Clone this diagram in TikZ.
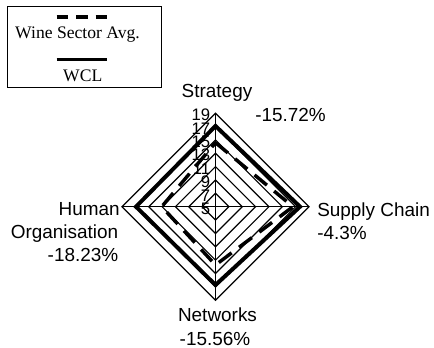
\documentclass[tikz,border=0pt]{standalone}
\usepackage{fontspec}
\usetikzlibrary{calc}
\setmainfont{Liberation Serif}
\newfontfamily\arialf{Liberation Sans}
\begin{document}
\begin{tikzpicture}[x=0.75pt,y=-0.75pt,
  grid/.style={draw=black,line width=0.9pt},
  wcl/.style={draw=black,line width=3pt,line join=miter},
  avg/.style={draw=black,line width=2.6pt,dash pattern=on 12pt off 7pt,line join=miter},
  axlab/.style={font=\arialf\fontsize{14.2pt}{17pt}\selectfont,inner sep=0pt},
  ringlab/.style={font=\arialf\fontsize{12.5pt}{14pt}\selectfont,inner sep=0pt,anchor=east},
  legtext/.style={font=\fontsize{13.2pt}{15pt}\selectfont,inner sep=0pt,anchor=base}]
\useasboundingbox (0,0) rectangle (434,348);
\fill[white] (0,0) rectangle (434,348);
\coordinate (C) at (215.5,206.7);
% rings
\foreach \k in {1,...,7}{
  \pgfmathsetmacro{\r}{\k*13.36}
  \draw[grid] ($(C)+(0,-\r)$) -- ($(C)+(\r,0)$) -- ($(C)+(0,\r)$) -- ($(C)+(-\r,0)$) -- cycle;
}
% spokes
\draw[grid] ($(C)+(0,-93.5)$) -- ($(C)+(0,93.5)$);
\draw[grid] ($(C)+(-93.5,0)$) -- ($(C)+(93.5,0)$);
% WCL
\draw[wcl] ($(C)+(0,-80.7)$) -- ($(C)+(84.5,0)$) -- ($(C)+(0,78.3)$) -- ($(C)+(-79.5,0)$) -- cycle;
% Wine sector avg
\draw[avg] ($(C)+(0,-64)$) -- ($(C)+(77.5,0)$) -- ($(C)+(0,58.3)$) -- ($(C)+(-53.8,0)$) -- cycle;
% ring labels
\foreach \k/\v in {0/5,1/7,2/9,3/11,4/13,5/15,6/17,7/19}{
  \node[ringlab] (rl\v) at ($(C)+(-5,-\k*13.36+2)$) {\v};
}
% axis labels
\node[axlab,anchor=base] (strat) at (217,98) {Strategy};
\node[axlab,anchor=base west] (stratp) at (255,121.7) {-15.72\%};
\node[axlab,anchor=base west] (supp) at (317,216.7) {Supply Chain};
\node[axlab,anchor=base west] (suppp) at (317,240) {-4.3\%};
\node[axlab,anchor=base] (netw) at (217.5,321.7) {Networks};
\node[axlab,anchor=base] (netwp) at (215,345) {-15.56\%};
\node[axlab,anchor=base east] (hum1) at (120,216) {Human};
\node[axlab,anchor=base east] (hum2) at (118.5,238.5) {Organisation};
\node[axlab,anchor=base east] (hump) at (118.5,262) {-18.23\%};
% legend
\draw[line width=0.9pt] (7.3,6.7) rectangle (161.7,87.3);
\coordinate (la1) at (56.7,16.7);
\coordinate (la2) at (107,16.7);
\coordinate (lb1) at (56.7,59.3);
\coordinate (lb2) at (107.3,59.3);
\draw[line width=3pt,dash pattern=on 8.8pt off 5.8pt] (la1) -- (la2);
\draw[line width=2.5pt] (lb1) -- (lb2);
\node[legtext] (legavg) at (77.5,38.3) {Wine Sector Avg.};
\node[legtext] (legwcl) at (82.7,81.7) {WCL};
\end{tikzpicture}
\end{document}
